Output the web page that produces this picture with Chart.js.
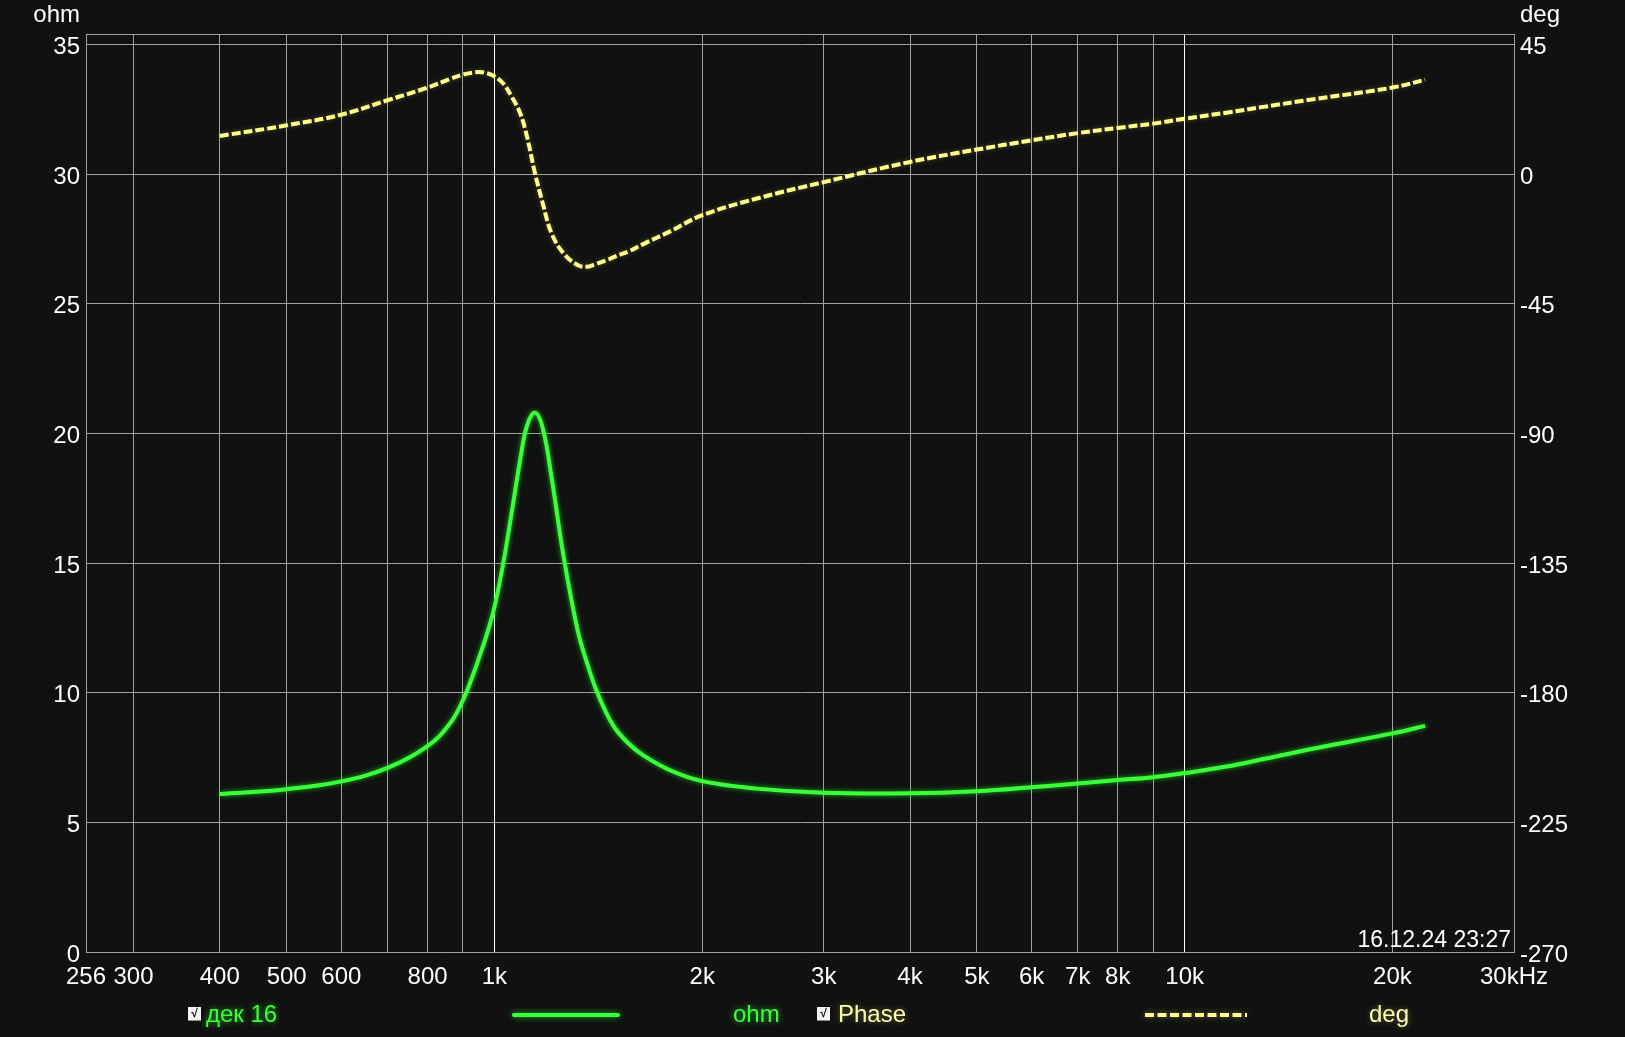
<!DOCTYPE html>
<html><head><meta charset="utf-8">
<script src="https://cdn.jsdelivr.net/npm/chart.js@4.4.1/dist/chart.umd.min.js"></script>
<style>html,body{margin:0;padding:0;background:#111;overflow:hidden}#wrap{width:1625px;height:1037px}</style>
</head><body><div id="wrap"><canvas id="c" width="1625" height="1037"></canvas></div>
<script>
// ---- data ----
const freqHz = [400, 500, 600, 700, 800, 862, 900, 930, 950, 975, 1000, 1030, 1060, 1090, 1115, 1145, 1175, 1210, 1260, 1320, 1360, 1400, 1450, 1500, 1570, 1640, 1800, 2000, 2400, 3000, 4000, 5000, 6000, 7000, 8000, 9000, 10000, 11500, 13000, 15400, 20000, 22300];
const impedanceOhm = [6.09, 6.28, 6.58, 7.10, 7.94, 8.81, 9.7, 10.65, 11.35, 12.25, 13.3, 15.0, 17.0, 19.0, 20.3, 20.8, 20.2, 18.3, 15.23, 12.4, 11.2, 10.2, 9.26, 8.58, 8.0, 7.6, 7.0, 6.59, 6.30, 6.14, 6.12, 6.20, 6.35, 6.50, 6.63, 6.74, 6.9, 7.15, 7.44, 7.85, 8.43, 8.72];
const phaseDeg = [13.2, 16.9, 20.6, 25.6, 30.0, 33.0, 34.5, 35.2, 35.4, 35.0, 33.9, 31.4, 26.7, 21.0, 12.9, 0.2, -10.2, -20.6, -27.6, -31.6, -32.2, -31.3, -30.0, -28.5, -26.7, -24.4, -19.8, -14.3, -8.5, -2.8, 4.2, 8.5, 11.7, 14.2, 16.0, 17.5, 19.2, 21.3, 23.3, 26.0, 30.0, 32.7];
const xTickValues = [256, 300, 400, 500, 600, 700, 800, 900, 1000, 2000, 3000, 4000, 5000, 6000, 7000, 8000, 9000, 10000, 20000, 30000];
const xTickLabels = ['256', '300', '400', '500', '600', '', '800', '', '1k', '2k', '3k', '4k', '5k', '6k', '7k', '8k', '', '10k', '20k', '30kHz'];
const ohmTicks = [0, 5, 10, 15, 20, 25, 30, 35];
const degTicks = [-270, -225, -180, -135, -90, -45, 0, 45];
const seriesNames = ['дек 16', 'Phase'];
const seriesUnits = ['ohm', 'deg'];
const timestamp = '16.12.24 23:27';

// ---- styling ----
const FONT = "'Liberation Sans', Arial, sans-serif";
const GRID = '#a0a0a0';
const GREEN = '#3cff3c';
const YELLOW = '#ffff8a';
const YTEXT = '#ffffb0';
Chart.defaults.font.family = FONT;
Chart.defaults.font.size = 24;
Chart.defaults.color = '#ffffff';

const glowPlugin = {
  id: 'glow',
  beforeDatasetDraw(chart, args) {
    const ds = chart.data.datasets[args.index];
    chart.ctx.save();
    chart.ctx.shadowColor = ds.glowColor;
    chart.ctx.shadowBlur = 5;
  },
  afterDatasetDraw(chart) { chart.ctx.restore(); }
};

const framePlugin = {
  id: 'frame',
  beforeDatasetsDraw(chart) {
    const {ctx, chartArea: a} = chart;
    ctx.save();
    ctx.strokeStyle = GRID; ctx.lineWidth = 1;
    ctx.beginPath();
    ctx.moveTo(Math.round(a.left) + 0.5, Math.round(a.top) + 0.5);
    ctx.lineTo(Math.round(a.right) + 0.5, Math.round(a.top) + 0.5);
    ctx.stroke();
    ctx.restore();
  },
  afterDraw(chart) {
    const {ctx, chartArea: a} = chart;
    ctx.save();
    ctx.font = '24px ' + FONT;
    ctx.fillStyle = '#ffffff';
    ctx.textBaseline = 'alphabetic';
    ctx.textAlign = 'right';
    ctx.fillText(seriesUnits[0], a.left - 6, 22);
    ctx.textAlign = 'left';
    ctx.fillText(seriesUnits[1], a.right + 6, 22);
    ctx.font = '23px ' + FONT;
    ctx.textAlign = 'right';
    ctx.fillText(timestamp, a.right - 3, a.bottom - 5);

    const ly = 1015;
    const items = [
      {box: 188, name: 206, line: [514, 618], unit: 733, color: GREEN, text: GREEN, dash: [], glow: 'rgba(40,255,40,0.7)'},
      {box: 817, name: 838, line: [1145, 1247], unit: 1369, color: YELLOW, text: YTEXT, dash: [9, 3.5], glow: 'rgba(255,255,120,0.35)'}
    ];
    items.forEach((it, i) => {
      ctx.shadowBlur = 0;
      ctx.fillStyle = '#f4f4f4';
      ctx.fillRect(it.box, ly - 8, 13, 14);
      ctx.fillStyle = '#888';
      ctx.fillRect(it.box, ly + 5, 13, 1);
      ctx.fillStyle = '#000';
      ctx.font = 'bold 12px ' + FONT;
      ctx.textAlign = 'center';
      ctx.textBaseline = 'middle';
      ctx.fillText('√', it.box + 6.5, ly - 1);
      ctx.font = '24px ' + FONT;
      ctx.textAlign = 'left';
      ctx.textBaseline = 'middle';
      ctx.shadowColor = it.glow; ctx.shadowBlur = 6;
      ctx.fillStyle = it.text;
      ctx.fillText(seriesNames[i], it.name, ly);
      ctx.fillText(seriesUnits[i], it.unit, ly);
      ctx.strokeStyle = it.color; ctx.lineWidth = 4; ctx.lineCap = it.dash.length ? 'butt' : 'round';
      ctx.setLineDash(it.dash);
      ctx.beginPath(); ctx.moveTo(it.line[0], ly); ctx.lineTo(it.line[1], ly); ctx.stroke();
      ctx.setLineDash([]);
    });
    ctx.restore();
  }
};

new Chart(document.getElementById('c'), {
  type: 'line',
  data: {
    datasets: [
      {
        label: seriesNames[0],
        data: freqHz.map((f, i) => ({x: f, y: impedanceOhm[i]})),
        yAxisID: 'y', borderColor: GREEN, borderWidth: 4, pointRadius: 0,
        tension: 0.4, glowColor: 'rgba(30,255,30,0.7)'
      },
      {
        label: seriesNames[1],
        data: freqHz.map((f, i) => ({x: f, y: phaseDeg[i]})),
        yAxisID: 'y2', borderColor: YELLOW, borderWidth: 4, borderDash: [9, 3], pointRadius: 0,
        tension: 0.4, glowColor: 'rgba(255,255,120,0.25)'
      }
    ]
  },
  options: {
    responsive: false, animation: false, devicePixelRatio: 1,
    layout: {padding: {left: 0, right: 0, top: 34, bottom: 0}},
    plugins: {legend: {display: false}, tooltip: {enabled: false}},
    scales: {
      x: {
        type: 'logarithmic', min: 256, max: 30000,
        afterFit: s => { s.height = 85; },
        afterBuildTicks: s => { s.ticks = xTickValues.map(v => ({value: v})); },
        ticks: {autoSkip: false, maxRotation: 0, minRotation: 0, padding: 11, color: '#fff',
          callback: (v, i) => xTickLabels[i]},
        grid: {drawTicks: false, lineWidth: 1,
          color: c => (c.tick && (c.tick.value === 1000 || c.tick.value === 10000)) ? '#ffffff' : GRID},
        border: {color: GRID}
      },
      y: {
        position: 'left', min: 0, max: 35.4,
        afterFit: s => { s.width = 86; },
        afterBuildTicks: s => { s.ticks = ohmTicks.map(v => ({value: v})); },
        ticks: {padding: 6, labelOffset: 3, color: '#fff', autoSkip: false, callback: v => String(v)},
        grid: {drawTicks: false, color: GRID, lineWidth: 1},
        border: {color: GRID}
      },
      y2: {
        position: 'right', min: -270, max: 48.6,
        afterFit: s => { s.width = 111; },
        afterBuildTicks: s => { s.ticks = degTicks.map(v => ({value: v})); },
        ticks: {padding: 6, labelOffset: 3, color: '#fff', autoSkip: false, callback: v => String(v)},
        grid: {drawTicks: false, drawOnChartArea: false},
        border: {color: GRID}
      }
    }
  },
  plugins: [glowPlugin, framePlugin]
});
</script></body></html>
